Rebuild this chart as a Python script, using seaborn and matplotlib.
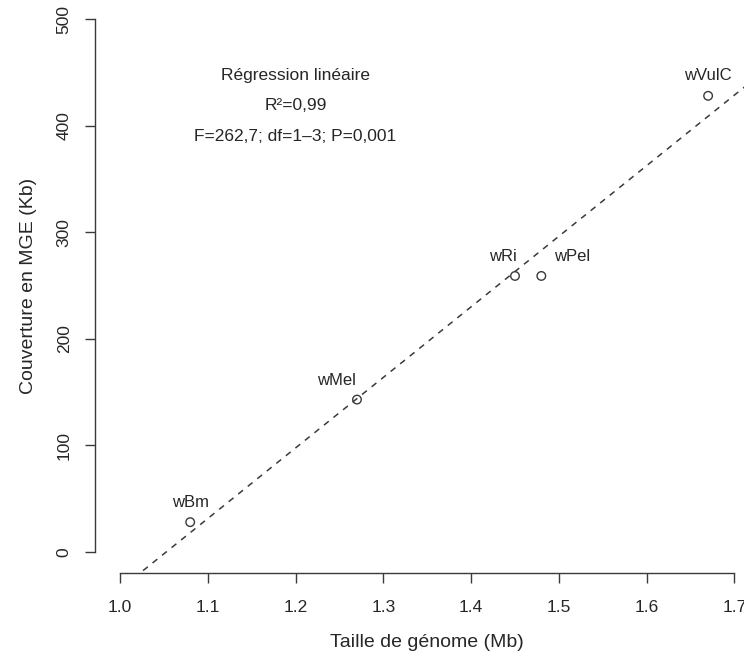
import numpy as np
import pandas as pd
import matplotlib
matplotlib.use("Agg")
import matplotlib.pyplot as plt
import seaborn as sns

# Wolbachia strains: genome size vs. MGE coverage
strains = ["wBm", "wMel", "wRi", "wPel", "wVulC"]
genome_mb = [1.08, 1.27, 1.45, 1.48, 1.67]
mge_kb = [28, 143, 259, 259, 428]

x_ticks = [1.0, 1.1, 1.2, 1.3, 1.4, 1.5, 1.6, 1.7]
y_ticks = [0, 100, 200, 300, 400, 500]

stats_lines = ["Régression linéaire", "R²=0,99", "F=262,7; df=1–3; P=0,001"]

df = pd.DataFrame({"strain": strains, "genome": genome_mb, "mge": mge_kb})

sns.set_theme(style="ticks")
plt.rcParams["font.family"] = ["Liberation Sans", "DejaVu Sans"]

ink = "#262626"
line_ink = "#3a3a3a"
fig = plt.figure(figsize=(7.44, 6.57), dpi=100)
ax = fig.add_axes([0.1282, 0.1274, 0.892, 0.876])
ax.set_xlim(0.972, 1.728)
ax.set_ylim(-20, 520)

# least-squares line across the whole plotting region
sns.regplot(data=df, x="genome", y="mge", ax=ax, scatter=False, ci=None,
            truncate=False,
            line_kws=dict(color=line_ink, lw=1.1, linestyle=(0, (4, 4))))
ax.set_xlim(0.972, 1.728)
ax.set_ylim(-20, 520)

sns.scatterplot(data=df, x="genome", y="mge", ax=ax, marker="o",
                s=38, facecolor="none", edgecolor=line_ink, linewidth=1.0,
                zorder=3)

# strain labels, nudged around each point
label_offsets = {"wBm": (0, 14.5), "wMel": (-15, 14), "wRi": (-9, 14),
                 "wPel": (22, 14), "wVulC": (0, 14.5)}
for s, gx, my in zip(strains, genome_mb, mge_kb):
    dx, dy = label_offsets[s]
    ax.annotate(s, (gx, my), xytext=(dx, dy), textcoords="offset points",
                ha="center", va="center", fontsize=12, color=ink)

# regression summary block
for txt, ty in zip(stats_lines, [447, 419, 390]):
    ax.text(1.2, ty, txt, ha="center", va="center", fontsize=12.5,
            color=ink)

sns.despine(ax=ax, top=True, right=True)
ax.spines["left"].set_bounds(0, 500)
ax.spines["bottom"].set_bounds(1.0, 1.7)
for sp in ("left", "bottom"):
    ax.spines[sp].set_color(line_ink)
    ax.spines[sp].set_linewidth(1.0)

ax.set_xticks(x_ticks)
ax.set_xticklabels([f"{v:.1f}" for v in x_ticks])
ax.set_yticks(y_ticks)
ax.set_yticklabels([str(v) for v in y_ticks], rotation=90, va="center")
ax.tick_params(axis="both", length=7, width=1.0, color=line_ink,
               labelcolor=ink, labelsize=12.5)
ax.tick_params(axis="x", pad=12)
ax.tick_params(axis="y", pad=10)

ax.set_xlabel("Taille de génome (Mb)", fontsize=14, color=ink, labelpad=14)
ax.set_ylabel("Couverture en MGE (Kb)", fontsize=14, color=ink, labelpad=14)

fig.savefig("out.png", dpi=100)
